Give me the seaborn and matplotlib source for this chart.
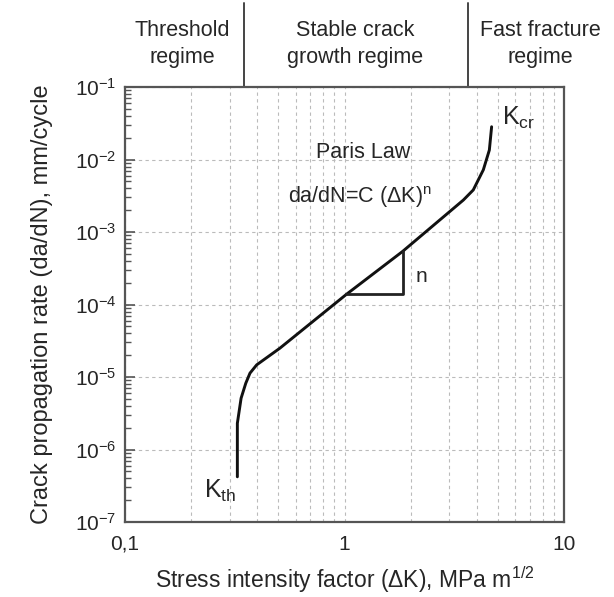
import numpy as np
import pandas as pd
import matplotlib
matplotlib.use("Agg")
import matplotlib.pyplot as plt
import matplotlib.ticker as mticker
import seaborn as sns

# ---- data ----
dK = [0.325, 0.325, 0.338, 0.355, 0.371, 0.398, 0.508, 1.02, 1.84, 3.48, 3.86, 4.29, 4.57, 4.68]
rate = [4.2e-7, 2.3e-6, 5.1e-6, 8.2e-6, 1.13e-5, 1.47e-5, 2.5e-5, 1.38e-4, 5.4e-4, 2.76e-3, 3.8e-3, 7.2e-3, 1.35e-2, 2.83e-2]
tri_x = [1.02, 1.84, 1.84]
tri_y = [1.38e-4, 1.38e-4, 5.4e-4]
regime_bounds = [0.348, 3.65]
regime_labels = ["Threshold\nregime", "Stable crack\ngrowth regime", "Fast fracture\nregime"]
regime_label_x = [0.182, 1.117, 7.78]
x_ticks = [0.1, 1, 10]
x_tick_labels = ["0,1", "1", "10"]
y_exponents = [-7, -6, -5, -4, -3, -2, -1]

sns.set_style("white")
plt.rcParams["font.family"] = ["Liberation Sans", "DejaVu Sans"]
plt.rcParams["mathtext.fontset"] = "custom"
plt.rcParams["mathtext.rm"] = "Liberation Sans"
plt.rcParams["mathtext.it"] = "Liberation Sans"
plt.rcParams["mathtext.default"] = "regular"

txt = "#262626"
fig = plt.figure(figsize=(6.14, 5.97), dpi=100)
ax = fig.add_axes([125/614, 1-522/597, 439/614, 435/597])

df = pd.DataFrame({"dK": dK, "rate": rate})
sns.lineplot(data=df, x="dK", y="rate", sort=False, estimator=None,
             color="#111111", lw=2.1, ax=ax)
sns.lineplot(x=tri_x, y=tri_y, sort=False, estimator=None,
             color="#222222", lw=2.0, ax=ax)

ax.set_xscale("log")
ax.set_yscale("log")
ax.set_xlim(0.1, 10)
ax.set_ylim(1e-7, 1e-1)

ax.set_xticks(x_ticks)
ax.set_xticklabels(x_tick_labels)
ax.xaxis.set_minor_locator(mticker.LogLocator(base=10, subs=np.arange(2, 10)))
ax.xaxis.set_minor_formatter(mticker.NullFormatter())
ax.set_yticks([10.0**e for e in y_exponents])
ax.set_yticklabels([r"10$^{%d}$" % e for e in y_exponents])
ax.yaxis.set_minor_locator(mticker.LogLocator(base=10, subs=np.arange(2, 10)))
ax.yaxis.set_minor_formatter(mticker.NullFormatter())

ax.tick_params(axis="x", which="both", length=0, pad=9, labelsize=15, colors=txt)
ax.tick_params(axis="y", which="major", direction="in", length=7, width=1.2,
               color="#555555", pad=6, labelsize=15, labelcolor=txt, left=True)
ax.tick_params(axis="y", which="minor", direction="in", length=4, width=1.0,
               color="#555555", left=True)

ax.grid(True, axis="x", which="both", ls=(0, (3, 3)), lw=0.8, color="#bbbbbb")
ax.grid(True, axis="y", which="major", ls=(0, (3, 3)), lw=0.8, color="#bbbbbb")
ax.set_axisbelow(True)
for s in ax.spines.values():
    s.set_color("#555555")
    s.set_linewidth(1.6)

ax.set_xlabel(r"Stress intensity factor ($\Delta$K), MPa m$^{1/2}$", fontsize=16.5, color=txt, labelpad=8)
ax.set_ylabel("Crack propagation rate (da/dN), mm/cycle", fontsize=17, color=txt, labelpad=16)

# regime dividers and labels above the axes
tr = ax.get_xaxis_transform()
for xb in regime_bounds:
    ax.plot([xb, xb], [1.0, 1.193], transform=tr, color="#444444", lw=1.4, clip_on=False)
for xl, lab in zip(regime_label_x, regime_labels):
    ax.text(xl, 1.099, lab, transform=tr, ha="center", va="center",
            fontsize=15.5, color=txt, linespacing=1.4, clip_on=False)

ax.text(1.21, 0.0123, "Paris Law", ha="center", va="center", fontsize=15.5, color=txt)
ax.text(1.18, 3.05e-3, r"da/dN=C ($\Delta$K)$^{n}$", ha="center", va="center", fontsize=15.5, color=txt)
ax.text(2.25, 2.4e-4, "n", ha="center", va="center", fontsize=15, color=txt)
ax.text(5.2, 0.037, r"K$_{cr}$", ha="left", va="center", fontsize=18, color=txt)
ax.text(0.272, 2.7e-7, r"K$_{th}$", ha="center", va="center", fontsize=18, color=txt)

fig.savefig("out.png", dpi=100)
